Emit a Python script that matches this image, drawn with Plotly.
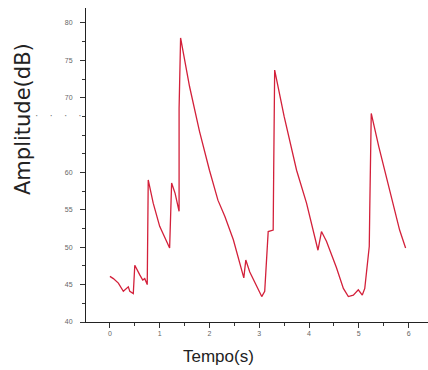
import plotly.graph_objects as go

# Time (s) and amplitude (dB)
tempo = [0.00, 0.07, 0.17, 0.27, 0.37, 0.40, 0.47, 0.50, 0.60, 0.66, 0.70, 0.75,
         0.77, 0.87, 1.00, 1.20, 1.24, 1.31, 1.39, 1.39, 1.42,
         1.60, 1.80, 2.00, 2.17, 2.31, 2.48, 2.69, 2.73, 2.81, 3.05, 3.11, 3.18, 3.28, 3.29, 3.31,
         3.50, 3.75, 3.95, 4.18, 4.25, 4.35, 4.55, 4.69, 4.79, 4.89, 4.99, 5.07, 5.12, 5.21, 5.22, 5.25,
         5.40, 5.52, 5.66, 5.82, 5.94]
amplitude = [46.1, 45.8, 45.2, 44.1, 44.7, 44.1, 43.8, 47.6, 46.3, 45.6, 45.8, 45.0,
             59.0, 55.9, 52.8, 49.9, 58.6, 57.2, 54.8, 68.6, 78.0,
             71.5, 65.5, 60.3, 56.3, 54.1, 51.0, 45.9, 48.3, 46.7, 43.4, 44.1, 52.1, 52.3, 60.0, 73.7,
             67.5, 60.3, 55.9, 49.6, 52.1, 50.8, 47.3, 44.5, 43.4, 43.6, 44.3, 43.6, 44.5, 50.1, 55.0, 67.9,
             63.5, 60.3, 56.3, 52.3, 49.9]

y_tick_vals = [40, 45, 50, 55, 60, 70, 75, 80]
x_tick_vals = [0, 1, 2, 3, 4, 5, 6]
x_title = "Tempo(s)"
y_title = "Amplitude(dB)"

fig = go.Figure()
fig.add_trace(go.Scatter(x=tempo, y=amplitude, mode="lines",
                         line=dict(color="#d3203a", width=1.3), showlegend=False))

fig.update_layout(
    width=428, height=370,
    margin=dict(l=86, r=0, t=8, b=48),
    paper_bgcolor="white", plot_bgcolor="white",
    font=dict(family="Liberation Sans, Arial, sans-serif"),
    annotations=[
        dict(text=x_title, xref="paper", yref="paper", x=(218 - 86) / 342, y=-(356 - 322) / 314,
             xanchor="center", yanchor="middle", showarrow=False,
             font=dict(size=17, color="#222", family="Liberation Sans, sans-serif")),
        dict(text=y_title, xref="paper", yref="paper", x=-(86 - 23) / 342, y=(322 - 119) / 314,
             xanchor="center", yanchor="middle", showarrow=False, textangle=-90,
             font=dict(size=21, color="#222", family="DejaVu Sans, sans-serif")),
        dict(text="·    ·    ·    ·", xref="paper", yref="paper", x=-(86 - 58) / 342, y=(322 - 115) / 314,
             xanchor="center", yanchor="middle", showarrow=False,
             font=dict(size=10, color="#777")),
    ],
)
fig.update_xaxes(
    range=[-0.48, 6.39], tickvals=x_tick_vals, ticks="outside", ticklen=5,
    tickcolor="#333", showline=True, linecolor="#222", linewidth=1, showgrid=False,
    zeroline=False, tickfont=dict(size=7, color="#666"),
    minor=dict(dtick=0.5, tick0=0, ticks="outside", ticklen=3, tickcolor="#333"),
)
fig.update_yaxes(
    range=[40, 82], tickvals=y_tick_vals, ticks="outside", ticklen=5,
    tickcolor="#333", showline=True, linecolor="#222", linewidth=1, showgrid=False,
    zeroline=False, tickfont=dict(size=7, color="#666"), ticklabelstandoff=6,
    minor=dict(dtick=2.5, tick0=40, ticks="outside", ticklen=3, tickcolor="#333"),
)
fig.write_html("out.html")
